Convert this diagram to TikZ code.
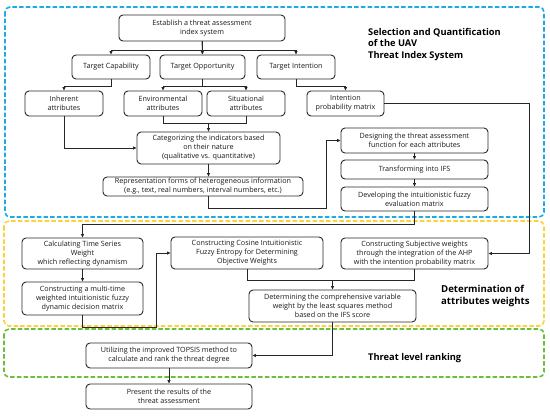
\documentclass[tikz,border=0pt]{standalone}
\usepackage{fontspec}
\setmainfont{Open Sans}
\usetikzlibrary{arrows.meta,calc}
\definecolor{bluereg}{RGB}{30,170,230}
\definecolor{yellowreg}{RGB}{250,210,60}
\definecolor{greenreg}{RGB}{110,190,60}
\definecolor{boxline}{RGB}{40,40,40}
\tikzset{
  box/.style={draw=boxline,line width=0.9pt,rounded corners=4pt,align=center,inner sep=0pt,
    font=\fontsize{7.2}{9}\selectfont,text=black!90},
  arr/.style={draw=black!85,line width=0.8pt,-{Triangle[length=3.5pt,width=3pt]}},
  ln/.style={draw=black!85,line width=0.8pt},
  region/.style={line width=1.6pt,dash pattern=on 4.5pt off 2.2pt,rounded corners=5pt},
  ttl/.style={font=\bfseries\fontsize{9.3}{11.5}\selectfont,align=left,anchor=west,inner sep=0pt},
}
\begin{document}
\begin{tikzpicture}[x=1pt,y=-1pt]
\useasboundingbox (0,0) rectangle (550,416);
% regions
\draw[region,draw=bluereg] (5,7) rectangle (544,217);
\draw[region,draw=yellowreg] (4,221) rectangle (544,326);
\draw[region,draw=greenreg] (4,329) rectangle (544,377);
% titles
\node[ttl] (t1) at (368,44.5) {Selection and Quantification\\of the UAV\\Threat Index System};
\node[ttl,font=\bfseries\fontsize{9.6}{12}\selectfont] (t2) at (441,296) {Determination of\\attributes weights};
\node[ttl] (t3) at (368,358) {Threat level ranking};
% boxes
\node[box,minimum width=166pt,minimum height=26pt] (est) at (202,28) {Establish a threat assessment\\index system};
\node[box,minimum width=78pt,minimum height=24pt] (tc) at (111,67) {Target Capability};
\node[box,minimum width=85pt,minimum height=24pt] (to) at (202.5,67) {Target Opportunity};
\node[box,minimum width=78pt,minimum height=24pt] (ti) at (296,67) {Target Intention};
\node[box,minimum width=78pt,minimum height=25pt] (inh) at (64,103.5) {Inherent\\attributes};
\node[box,minimum width=78pt,minimum height=25pt] (env) at (163,103.5) {Environmental\\attributes};
\node[box,minimum width=78pt,minimum height=25pt] (sit) at (246,103.5) {Situational\\attributes};
\node[box,minimum width=77pt,minimum height=25pt] (ipm) at (345.5,103.5) {Intention\\probability matrix};
\node[box,minimum width=143pt,minimum height=32pt] (cat) at (208.5,148) {Categorizing the indicators based\\on their nature\\(qualitative vs. quantitative)};
\node[box,minimum width=200pt,minimum height=19pt] (rep) at (203,186.5) {Representation forms of heterogeneous information\\(e.g., text, real numbers, interval numbers, etc.)};
\node[box,minimum width=147pt,minimum height=25pt] (des) at (414.5,140.5) {Designing the threat assessment\\function for each attributes};
\node[box,minimum width=147pt,minimum height=19pt] (tra) at (414.5,169.5) {Transforming into IFS};
\node[box,minimum width=147pt,minimum height=24pt] (dev) at (414.5,199) {Developing the intuitionistic fuzzy\\evaluation matrix};
\node[box,minimum width=121pt,minimum height=31pt] (cal) at (82.5,253.5) {Calculating Time Series\\Weight\\which reflecting dynamism};
\node[box,minimum width=121pt,minimum height=33pt] (mul) at (82.5,298.5) {Constructing a multi-time\\weighted intuitionistic fuzzy\\dynamic decision matrix};
\node[box,minimum width=152pt,minimum height=32pt] (cos) at (247,253) {Constructing Cosine Intuitionistic\\Fuzzy Entropy for Determining\\Objective Weights};
\node[box,minimum width=147pt,minimum height=31pt] (sub) at (414.5,253.5) {Constructing Subjective weights\\through the integration of the AHP\\with the intention probability matrix};
\node[box,minimum width=167pt,minimum height=32pt] (det) at (332.5,306) {Determining the comprehensive variable\\weight by the least squares method\\based on the IFS score};
\node[box,minimum width=166pt,minimum height=25pt] (top) at (169,355.5) {Utilizing the improved TOPSIS method to\\calculate and rank the threat degree};
\node[box,minimum width=166pt,minimum height=25pt] (pre) at (169,396.5) {Present the results of the\\threat assessment};
% connectors
\draw[arr] (est.south) -- (to.north);
\draw[arr] (est.south) -- ++(0,9) -| (tc.north);
\draw[arr] (est.south) -- ++(0,9) -| (ti.north);
\draw[arr] (tc.south) -- ++(0,7) -| (inh.north);
\draw[arr] (to.south) -- ++(0,7) -| (env.north);
\draw[arr] (to.south) -- ++(0,7) -| (sit.north);
\draw[arr] (ti.south) -- ++(0,7) -| (ipm.north);
\draw[ln] (env.south) -- ++(0,7) -| (sit.south);
\draw[arr] ($(cat.north)+(0,-9)$) -- (cat.north);
\draw[arr] (inh.south) |- (cat.west);
\draw[arr] (cat.south) -- (cat.south |- rep.north);
\draw[arr] (rep.south -| cat.south) -- ++(0,12) -| ($(des.west)+(-14,0)$) -- (des.west);
\draw[arr] (des.south) -- (tra.north);
\draw[arr] (tra.south) -- (dev.north);
\draw[arr] (dev.south) -- ++(0,13) -| (cal.north);
\draw[arr] (cal.south) -- (mul.north);
\draw[arr] (mul.south) -- ++(0,12) -| ($(cos.west)+(-14,0)$) -- (cos.west);
\draw[ln] (cos.south) -- ++(0,11) -| (sub.south);
\draw[arr] ($(det.north)+(0,-10)$) -- (det.north);
\draw[arr] (ipm.east) -| ($(sub.east)+(41,0)$) -- (sub.east);
\draw[arr] (det.south) |- (top.east);
\draw[arr] (top.south) -- (pre.north);
\end{tikzpicture}
\end{document}
